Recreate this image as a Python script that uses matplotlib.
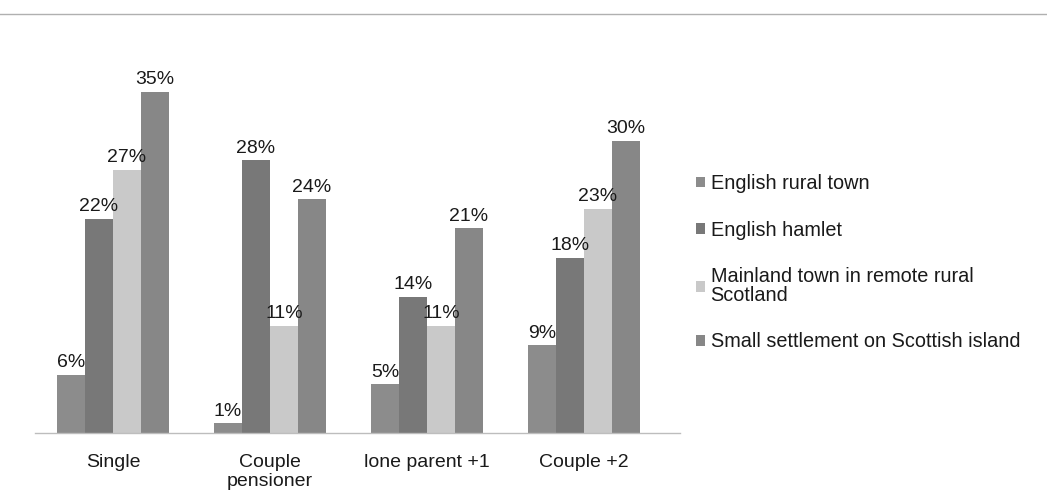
import matplotlib
matplotlib.use("Agg")
import matplotlib.pyplot as plt
from matplotlib.lines import Line2D
import numpy as np

plt.rcParams['font.family'] = ['Liberation Sans', 'DejaVu Sans']

categories = ["Single", "Couple\npensioner", "lone parent +1", "Couple +2"]
series_names = [
    "English rural town",
    "English hamlet",
    "Mainland town in remote rural\nScotland",
    "Small settlement on Scottish island",
]
rural_town = [6, 1, 5, 9]
hamlet = [22, 28, 14, 18]
mainland_town = [27, 11, 11, 23]
island = [35, 24, 21, 30]

series_values = [rural_town, hamlet, mainland_town, island]
colors = ["#8c8c8c", "#787878", "#c9c9c9", "#878787"]

fig = plt.figure(figsize=(10.47, 5.01), dpi=100)
ax = fig.add_axes([0.0334, 0.1357, 0.616, 0.7784])

x = np.arange(len(categories))
width = 0.178
offsets = (np.arange(4) - 1.5) * width

for vals, off, col, name in zip(series_values, offsets, colors, series_names):
    bars = ax.bar(x + off, vals, width, color=col, label=name, linewidth=0)
    for b, v in zip(bars, vals):
        ax.text(b.get_x() + b.get_width() / 2, v + 0.35, f"{v}%",
                ha="center", va="bottom", fontsize=14, color="#1a1a1a")

ax.set_xlim(-0.497, 3.611)
ax.set_ylim(0, 40)
ax.set_xticks(x)
ax.set_xticklabels(categories, fontsize=14, color="#1a1a1a", linespacing=1.15)
ax.tick_params(axis="x", length=0, pad=15)
ax.set_yticks([])
for side in ("top", "right", "left"):
    ax.spines[side].set_visible(False)
ax.spines["bottom"].set_color("#bdbdbd")
ax.spines["bottom"].set_linewidth(1.0)

leg = ax.legend(loc="upper left", bbox_to_anchor=(1.012, 0.684), frameon=False,
                fontsize=14.3, handlelength=0.45, handleheight=0.45,
                handletextpad=0.3, labelspacing=1.38, borderaxespad=0)
for t in leg.get_texts():
    t.set_color("#1a1a1a")
    t.set_linespacing(1.0)

# thin rule across the top of the page
fig.add_artist(Line2D([0, 1], [1 - 14 / 501, 1 - 14 / 501], color="#b0b0b0",
                      linewidth=1.0, transform=fig.transFigure))

fig.savefig("out.png", dpi=100, facecolor="white")
